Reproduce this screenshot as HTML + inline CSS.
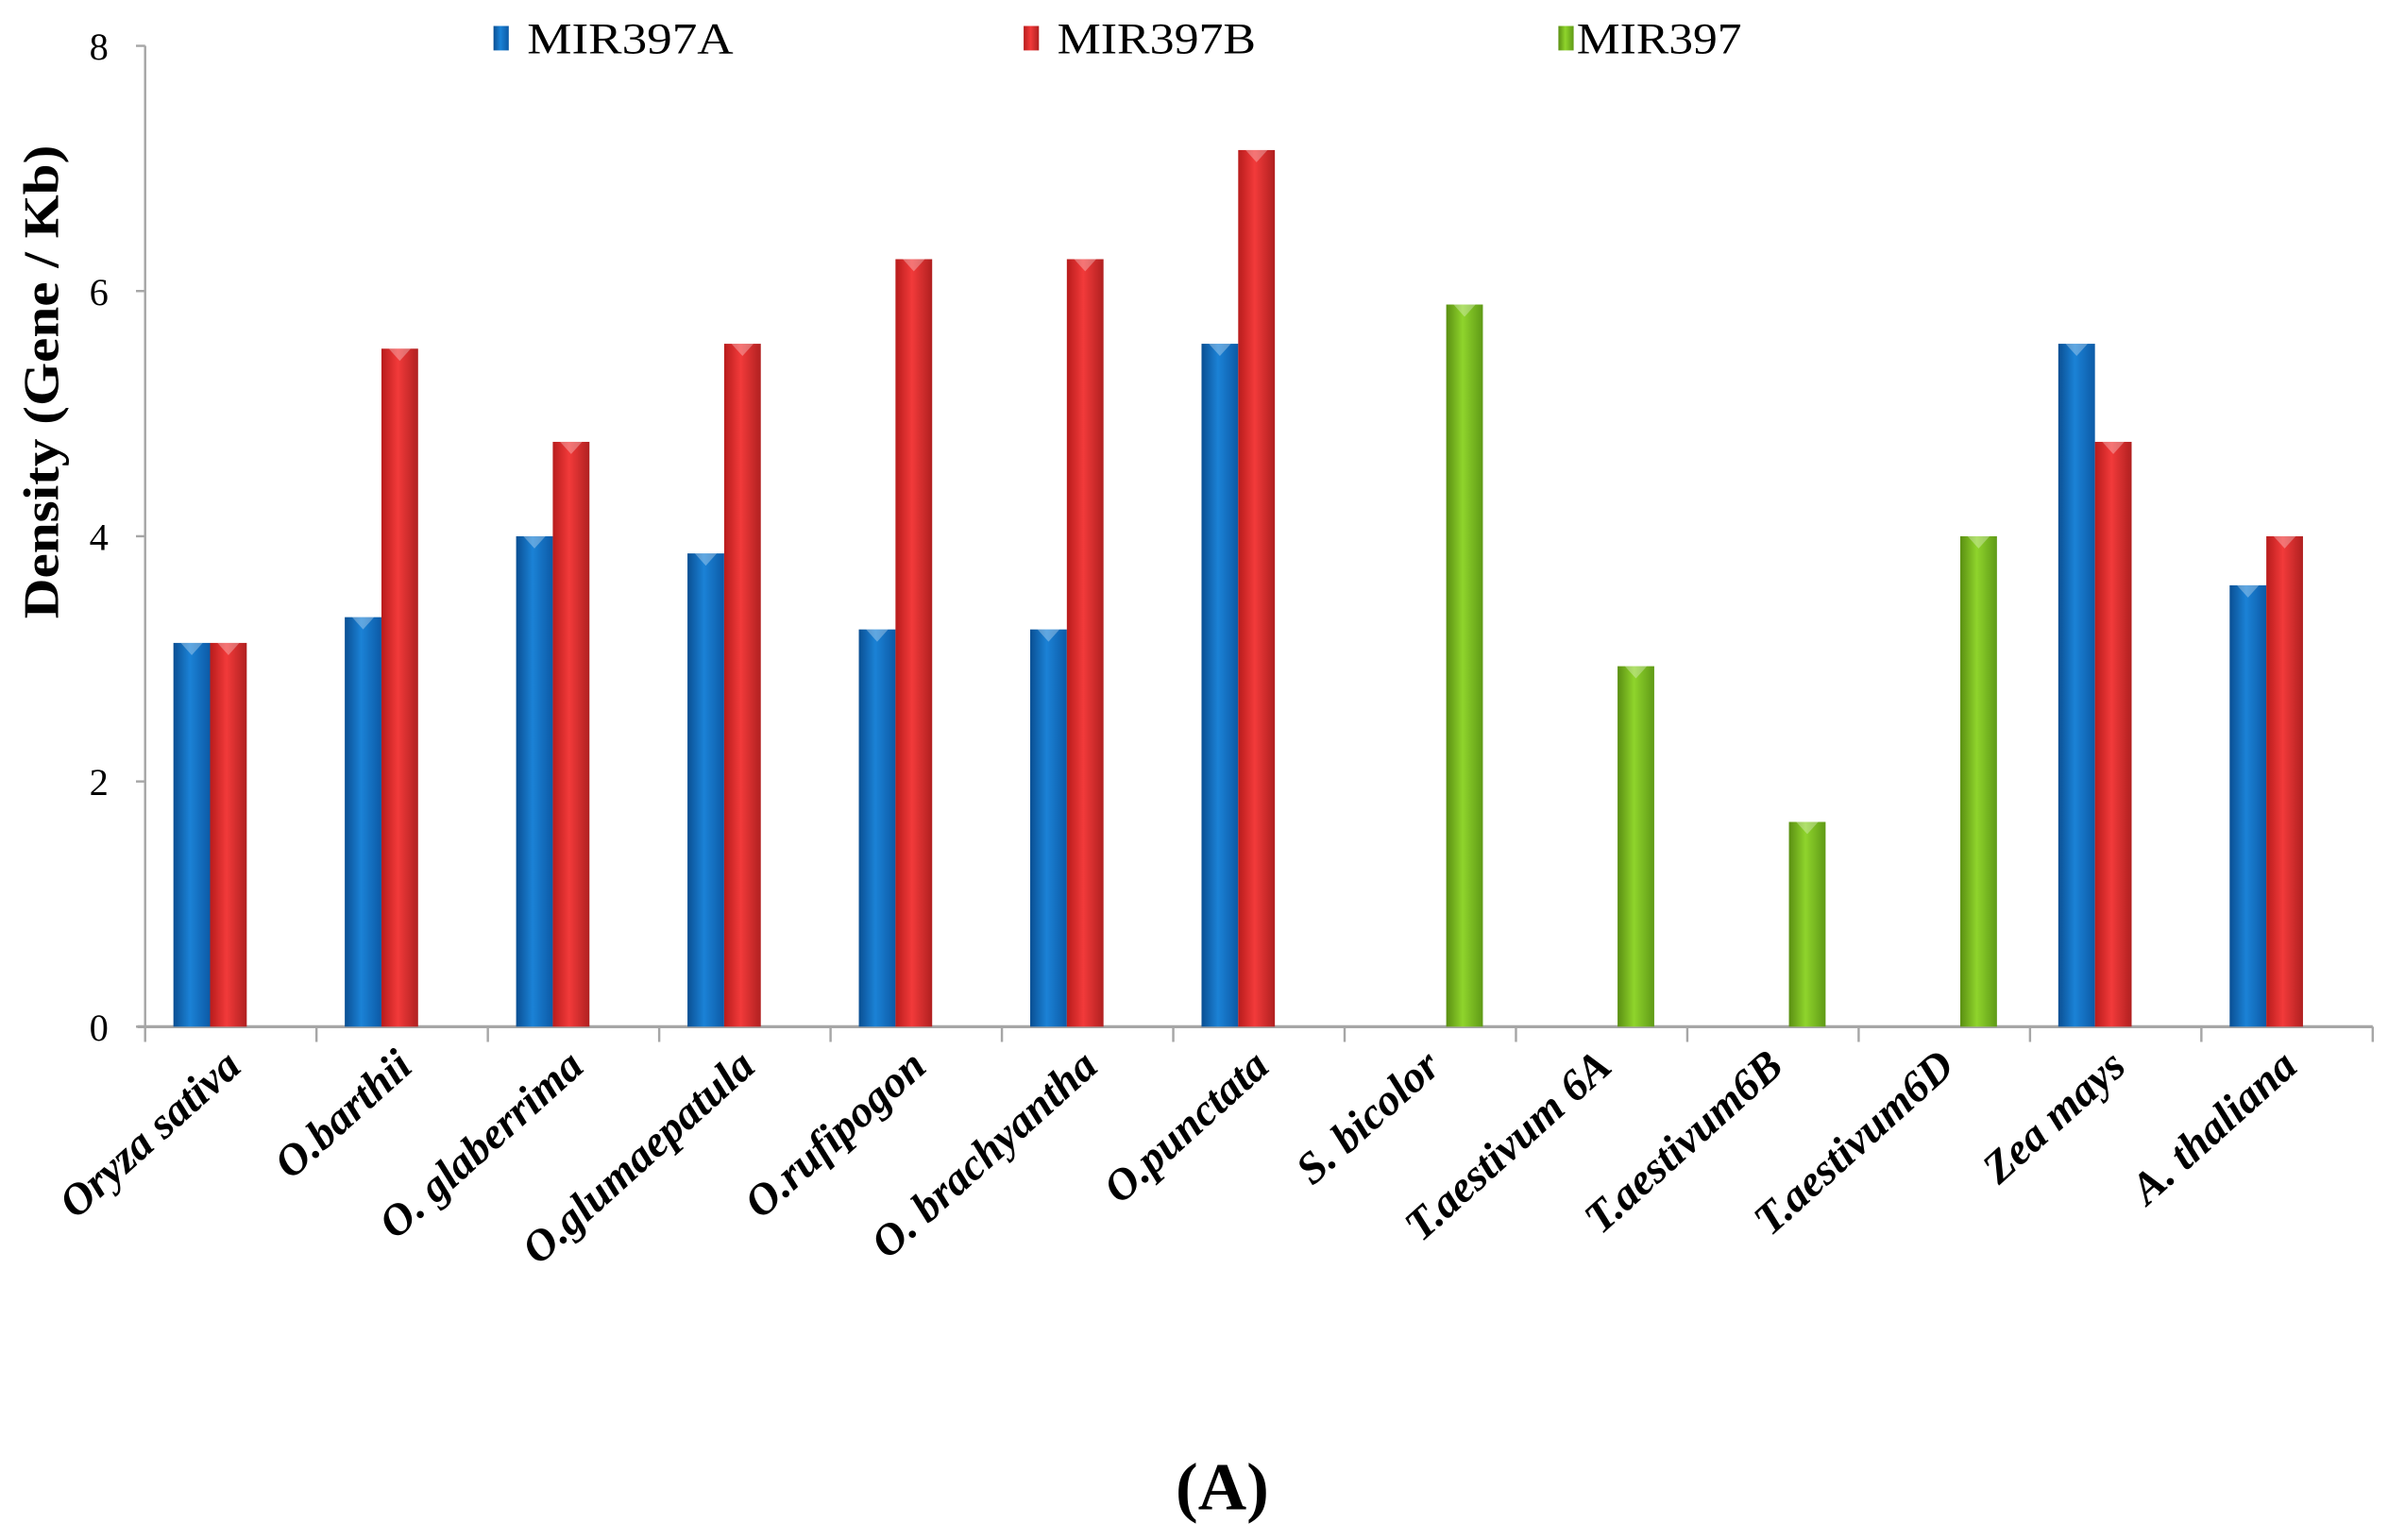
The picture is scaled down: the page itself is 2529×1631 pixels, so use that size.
<!DOCTYPE html>
<html><head><meta charset="utf-8"><style>
html,body{margin:0;padding:0;background:#fff}
svg{display:block}
text{font-family:"Liberation Serif",serif}
</style></head><body>
<svg id="chart" width="2529" height="1631" viewBox="0 0 1563 1008" xmlns="http://www.w3.org/2000/svg">
<defs>
<linearGradient id="gBlue" x1="0" x2="1" y1="0" y2="0"><stop offset="0" stop-color="#0a4f93"/><stop offset="0.45" stop-color="#1b82d6"/><stop offset="1" stop-color="#0c5aa6"/></linearGradient>
<linearGradient id="gRed" x1="0" x2="1" y1="0" y2="0"><stop offset="0" stop-color="#b81c1c"/><stop offset="0.45" stop-color="#f23a3a"/><stop offset="1" stop-color="#b02020"/></linearGradient>
<linearGradient id="gGreen" x1="0" x2="1" y1="0" y2="0"><stop offset="0" stop-color="#5a8f12"/><stop offset="0.45" stop-color="#8fd42c"/><stop offset="1" stop-color="#5f9a16"/></linearGradient>
</defs>
<g id="axes"></g>
<g id="bars"></g>
<g id="labels"></g>
<text transform="translate(38,250) rotate(-90)" text-anchor="middle" font-size="33" font-weight="bold" textLength="310" lengthAdjust="spacingAndGlyphs">Density (Gene / Kb)</text>
<g>
<rect x="323" y="17" width="10" height="16" fill="url(#gBlue)"/>
<text x="345" y="35" font-size="29" textLength="135" lengthAdjust="spacingAndGlyphs">MIR397A</text>
<rect x="670" y="17" width="10" height="16" fill="url(#gRed)"/>
<text x="692" y="35" font-size="29" textLength="130" lengthAdjust="spacingAndGlyphs">MIR397B</text>
<rect x="1020" y="17" width="10" height="16" fill="url(#gGreen)"/>
<text x="1032" y="35" font-size="29" textLength="108" lengthAdjust="spacingAndGlyphs">MIR397</text>
</g>
<text x="800" y="988" text-anchor="middle" font-size="44" font-weight="bold">(A)</text>
</svg>
<script>
const categories = ["Oryza sativa","O.barthii","O. glaberrima","O.glumaepatula","O.rufipogon","O. brachyantha","O.punctata","S. bicolor","T.aestivum 6A","T.aestivum6B","T.aestivum6D","Zea mays","A. thaliana"];
const mir397a = [3.13,3.34,4.0,3.86,3.24,3.24,5.57,null,null,null,null,5.57,3.6];
const mir397b = [3.13,5.53,4.77,5.57,6.26,6.26,7.15,null,null,null,null,4.77,4.0];
const mir397 = [null,null,null,null,null,null,null,5.89,2.94,1.67,4.0,null,null];
const yTicks = [0,2,4,6,8];

const NS="http://www.w3.org/2000/svg";
const X0=95, X1=1553, Y0=672, Y8=30, YMAX=8;
const catW=(X1-X0)/categories.length;
const y=v=>Y0-(v/YMAX)*(Y0-Y8);
const xCat=i=>X0+i*catW;
function mk(tag,attrs,parent){const e=document.createElementNS(NS,tag);for(const k in attrs)e.setAttribute(k,attrs[k]);parent.appendChild(e);return e;}
const axes=document.getElementById('axes'), bars=document.getElementById('bars'), labels=document.getElementById('labels');

let ax=mk('line',{x1:X0,y1:Y8,x2:X0,y2:Y0,stroke:'#a6a6a6','stroke-width':1.5},axes);


let bx=mk('line',{x1:X0-5,y1:Y0,x2:X1,y2:Y0,stroke:'#a6a6a6','stroke-width':2},axes);


yTicks.forEach(t=>{
  mk('line',{x1:X0-6,y1:y(t),x2:X0,y2:y(t),stroke:'#a6a6a6','stroke-width':1.5},axes);
  const tx=mk('text',{x:X0-24,y:y(t)+9,'text-anchor':'end','font-size':25},axes);
  tx.textContent=t;
  
  
});
for(let i=0;i<=categories.length;i++){
  mk('line',{x1:xCat(i),y1:Y0,x2:xCat(i),y2:Y0+10,stroke:'#a6a6a6','stroke-width':1.5},axes);
}
const slotW=catW*0.214, off=catW*0.165;
const series=[[mir397a,'url(#gBlue)','mir397a'],[mir397b,'url(#gRed)','mir397b'],[mir397,'url(#gGreen)','mir397']];
categories.forEach((c,i)=>{
  series.forEach(([arr,fill,nm],s)=>{
    const v=arr[i]; if(v==null) return;
    const bx0=xCat(i)+off+s*slotW;
    const r=mk('rect',{x:bx0,y:y(v),width:slotW,height:Y0-y(v),fill:fill},bars);
    
    
    mk('polygon',{points:`${bx0+slotW*0.2},${y(v)} ${bx0+slotW*0.8},${y(v)} ${bx0+slotW*0.5},${y(v)+8}`,fill:'rgba(255,255,255,0.3)'},bars);
  });
  const cx=xCat(i)+catW*0.5;
  const t=mk('text',{transform:`translate(${cx+8},${Y0+28}) rotate(-42)`,'text-anchor':'end','font-size':29,'font-weight':'bold','font-style':'italic'},labels);
  t.textContent=c;
  
  
});
</script>
</body></html>
